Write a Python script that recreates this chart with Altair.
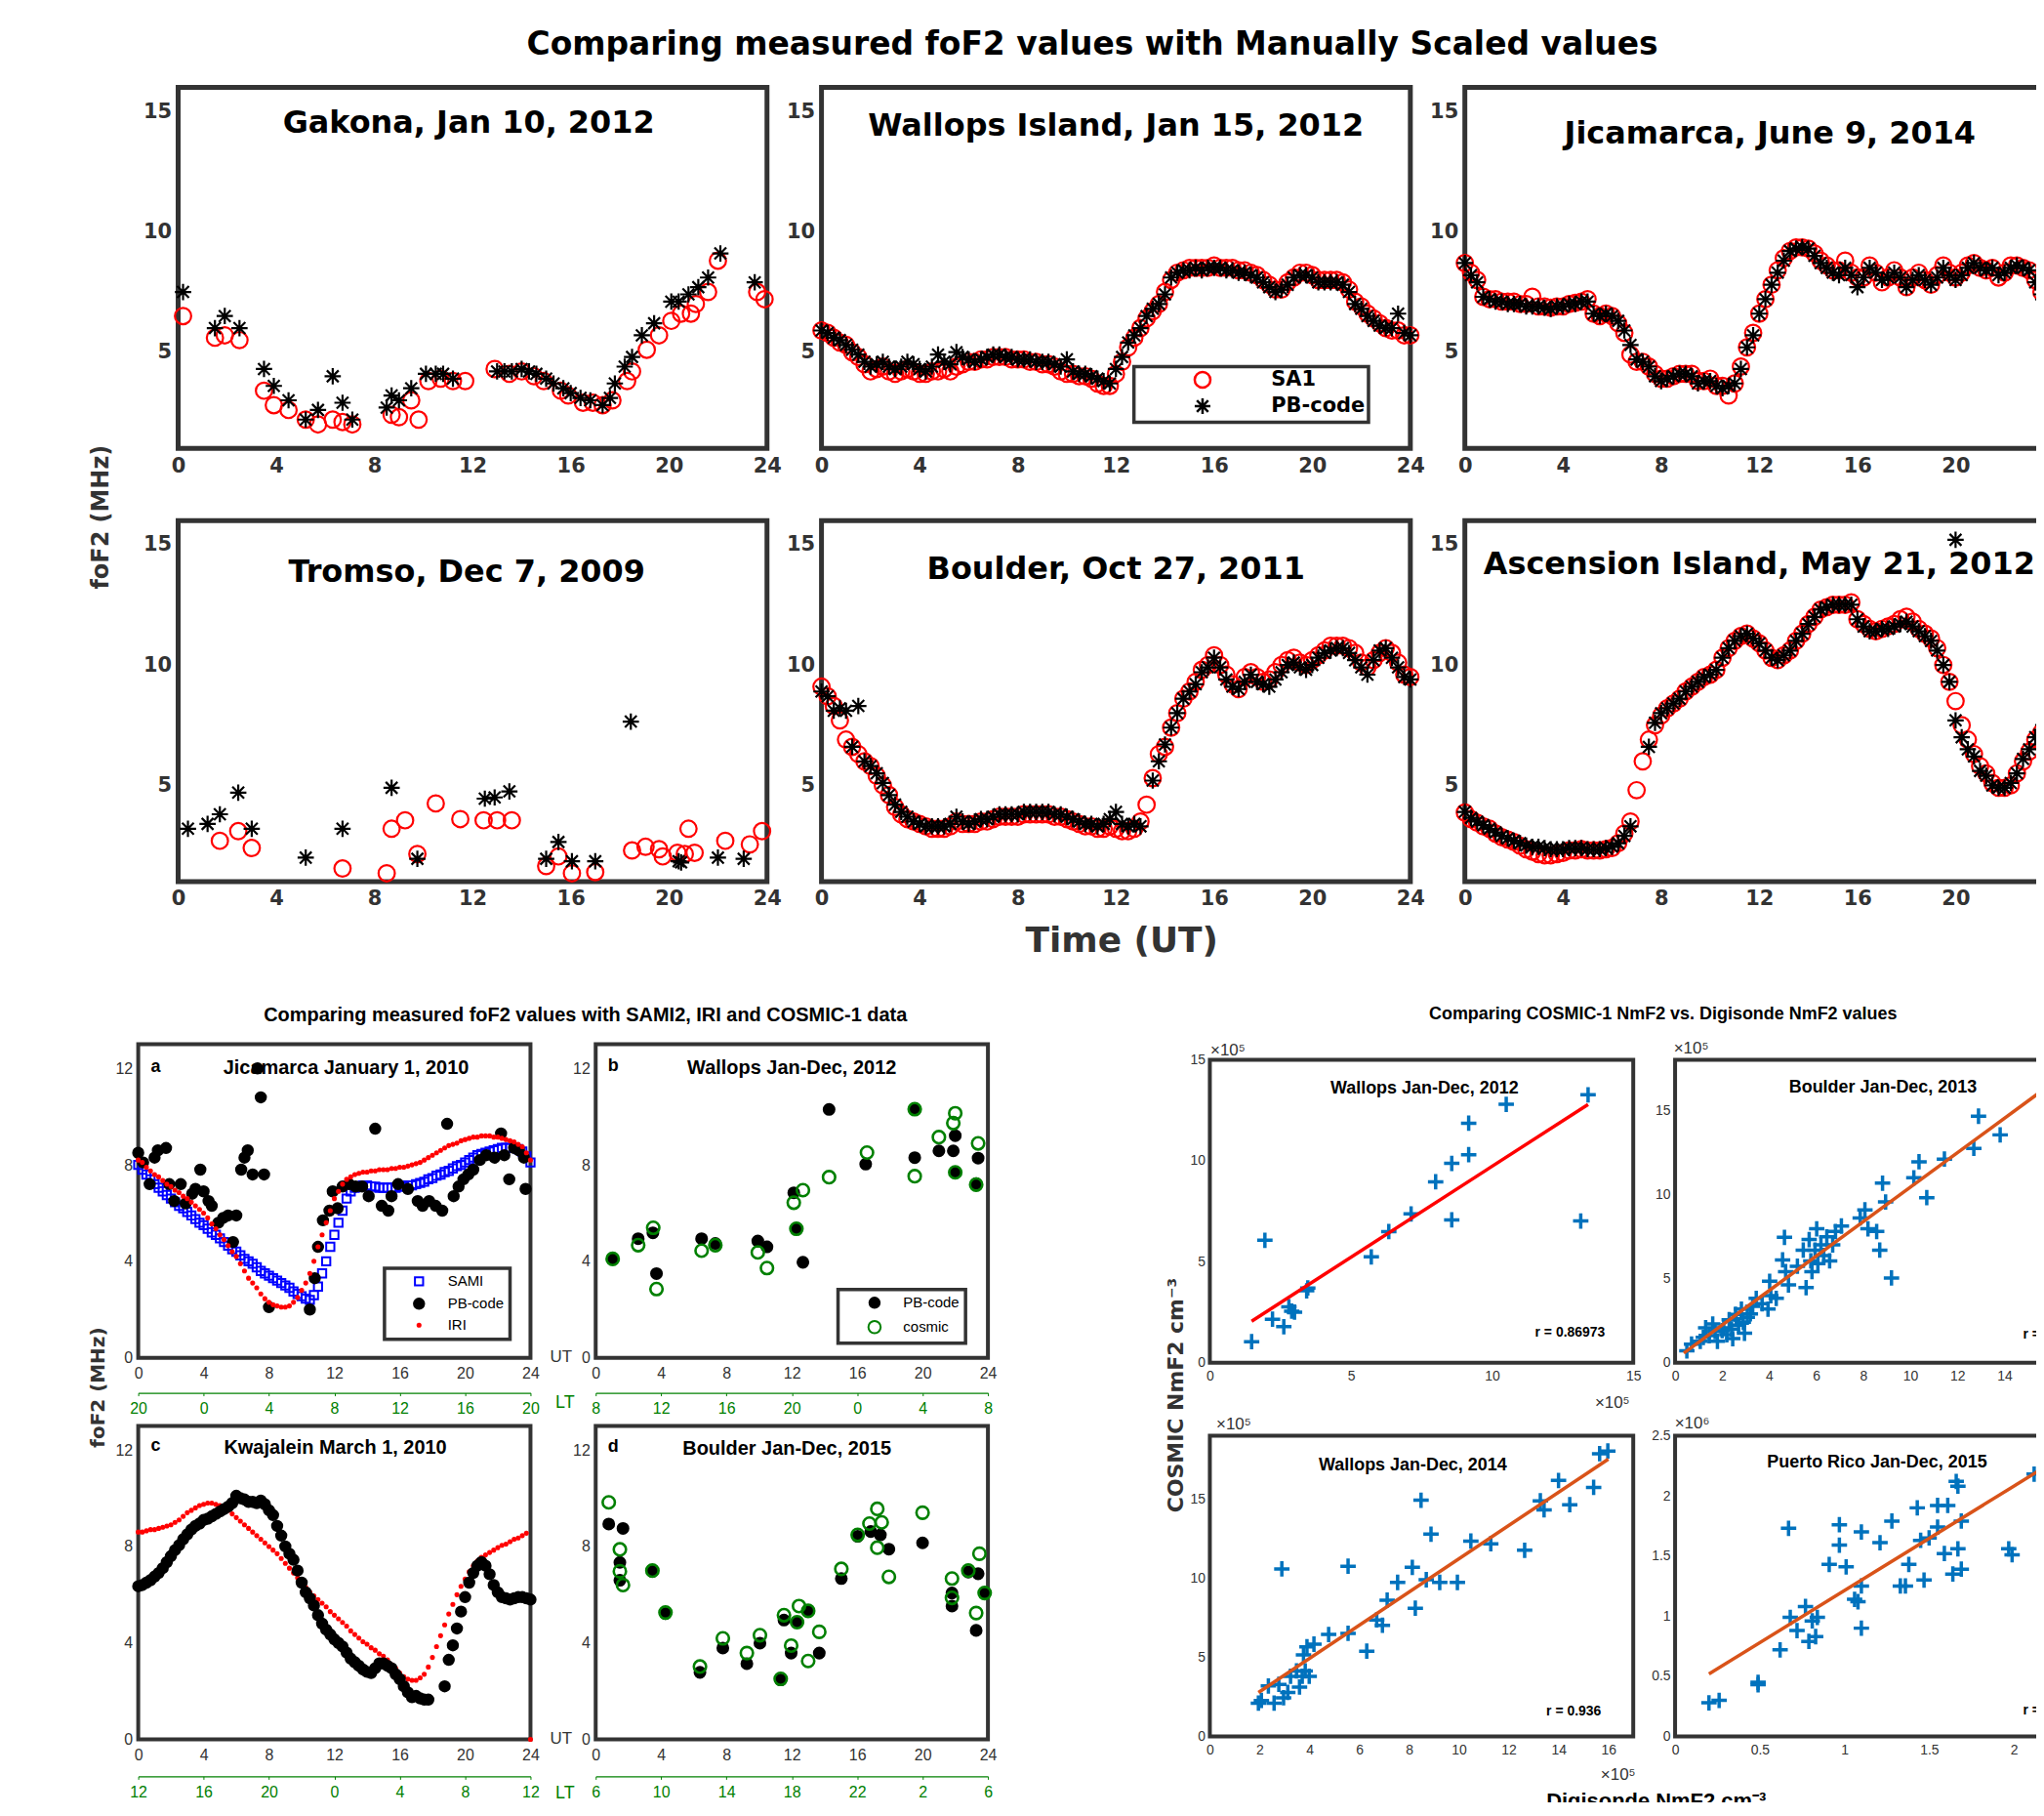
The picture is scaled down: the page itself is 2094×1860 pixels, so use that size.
import altair as alt
import pandas as pd

WF = "DejaVu Sans"
NF = "Liberation Sans"
DARK = "#333333"
ASTER = "M0,-1L0,1M-1,0L1,0M-0.72,-0.72L0.72,0.72M-0.72,0.72L0.72,-0.72"
PLUS = "M-1,0L1,0M0,-1L0,1"
SQUARE = "M-0.8,-0.8H0.8V0.8H-0.8Z"
DOT = "M0.3,0A0.3,0.3 0 1,1 -0.3,0A0.3,0.3 0 1,1 0.3,0Z"
RING = "M1.2,0A1.2,1.2 0 1,1 -1.2,0A1.2,1.2 0 1,1 1.2,0Z"
UT_TICKS = [0, 4, 8, 12, 16, 20, 24]

# ---------------- top block data (foF2, MHz) ----------------
gak_sa_h = [0.2, 1.5, 1.9, 2.5, 3.5, 3.9, 4.5, 5.2, 5.7, 6.3, 6.7, 7.1, 8.7, 9.0, 9.5, 9.8, 10.2, 10.7, 11.2, 11.7,
            12.9, 13.5, 14.0, 14.5, 14.9, 15.6, 15.9, 16.5, 16.9, 17.3, 17.7, 18.3, 18.5, 19.1, 19.6, 20.1, 20.5,
            20.9, 21.1, 21.6, 22.0, 23.6, 23.9]
gak_sa_v = [6.5, 5.6, 5.7, 5.5, 3.4, 2.8, 2.6, 2.2, 2.0, 2.2, 2.1, 2.0, 2.4, 2.3, 3.0, 2.2, 3.8, 3.9, 3.8, 3.8,
            4.3, 4.1, 4.2, 4.0, 3.8, 3.4, 3.2, 2.9, 2.9, 2.8, 3.0, 3.8, 4.2, 5.1, 5.7, 6.3, 6.6,
            6.6, 7.0, 7.5, 8.8, 7.5, 7.2]
gak_pb_h = [0.2, 1.5, 1.9, 2.5, 3.5, 3.9, 4.5, 5.2, 5.7, 6.3, 6.7, 7.1, 8.5, 8.7, 9.0, 9.5, 10.1, 10.5, 10.8, 11.2,
            13.0, 13.3, 13.6, 14.0, 14.3, 14.6, 15.0, 15.3, 15.7, 16.0, 16.4, 16.8, 17.3, 17.6, 17.8, 18.2, 18.5,
            18.9, 19.4, 20.1, 20.4, 20.8, 21.2, 21.6, 22.1, 23.5]
gak_pb_v = [7.5, 6.0, 6.5, 6.0, 4.3, 3.6, 3.0, 2.2, 2.6, 4.0, 2.9, 2.2, 2.7, 3.2, 3.0, 3.5, 4.1, 4.1, 4.1, 3.9,
            4.2, 4.2, 4.2, 4.3, 4.2, 4.1, 3.9, 3.7, 3.5, 3.3, 3.1, 3.0, 2.8, 3.1, 3.7, 4.4, 4.8,
            5.7, 6.2, 7.1, 7.1, 7.4, 7.7, 8.1, 9.1, 7.9]

# quarter-hour series (0, 0.25, ... 24 UT)
wal_sa = [5.9, 5.8, 5.6, 5.4, 5.3, 5.0, 4.8, 4.5, 4.2, 4.3, 4.4, 4.2, 4.1, 4.2, 4.3, 4.2, 4.1, 4.1, 4.2, 4.2,
          4.3, 4.2, 4.4, 4.5, 4.6, 4.6, 4.7, 4.7, 4.8, 4.8, 4.8, 4.7, 4.7, 4.7, 4.6, 4.6, 4.5, 4.5, 4.4, 4.2,
          4.1, 4.1, 4.0, 4.0, 3.9, 3.7, 3.6, 3.6, 4.1, 4.6, 5.2, 5.6, 6.0, 6.4, 6.7, 7.0, 7.5, 8.0, 8.3, 8.4,
          8.5, 8.5, 8.5, 8.5, 8.6, 8.5, 8.5, 8.5, 8.4, 8.4, 8.3, 8.2, 8.0, 7.8, 7.6, 7.6, 7.9, 8.1, 8.3, 8.3,
          8.2, 8.0, 8.0, 8.0, 8.0, 7.9, 7.6, 7.1, 6.9, 6.6, 6.4, 6.2, 6.0, 5.9, 5.9, 5.7, 5.7]
wal_pb = [5.9, 5.8, 5.6, 5.5, 5.3, 5.1, 4.9, 4.6, 4.4, 4.5, 4.6, 4.4, 4.3, 4.4, 4.6, 4.5, 4.3, 4.2, 4.4, 4.9,
          4.6, 4.5, 5.0, 4.8, 4.7, 4.6, 4.7, 4.8, 4.9, 4.9, 4.8, 4.8, 4.7, 4.7, 4.7, 4.6, 4.6, 4.6, 4.5, 4.4,
          4.7, 4.2, 4.1, 4.1, 4.0, 3.9, 3.8, 3.7, 4.3, 4.8, 5.4, 5.7, 6.0, 6.5, 6.8, 7.0, 7.4, 8.1, 8.3, 8.4,
          8.4, 8.5, 8.4, 8.5, 8.5, 8.5, 8.4, 8.4, 8.3, 8.3, 8.2, 8.1, 7.9, 7.7, 7.5, 7.6, 7.8, 8.1, 8.2, 8.2,
          8.1, 7.9, 7.9, 7.9, 7.9, 7.8, 7.5, 7.0, 6.8, 6.5, 6.3, 6.1, 6.0, 6.0, 6.6, 5.8, 5.7]

jic_sa = [8.7, 8.3, 8.0, 7.3, 7.2, 7.2, 7.1, 7.1, 7.1, 7.0, 7.0, 7.3,
          6.9, 6.9, 6.85, 6.9, 6.9, 7.0, 7.05, 7.1, 7.2, 6.6, 6.5, 6.6,
          6.5, 6.2, 5.8, 4.9, 4.6, 4.6, 4.4, 4.1, 3.9, 3.9, 4.0, 4.1,
          4.1, 4.1, 3.8, 3.8, 3.9, 3.6, 3.6, 3.2, 3.7, 4.4, 5.2, 5.8,
          6.6, 7.2, 7.8, 8.4, 8.9, 9.2, 9.35, 9.35, 9.3, 9.1, 8.8, 8.6,
          8.4, 8.4, 8.8, 8.3, 8.1, 8.1, 8.6, 8.3, 7.9, 8.1, 8.4, 8.1,
          7.7, 8.1, 8.3, 8.0, 7.8, 8.2, 8.6, 8.3, 8.1, 8.3, 8.6, 8.7,
          8.5, 8.4, 8.5, 8.1, 8.3, 8.6, 8.6, 8.5, 8.4, 8.0, 7.5, 7.1, 6.8]
jic_pb = [8.7, 8.2, 7.9, 7.3, 7.2, 7.1, 7.1, 7.0, 7.0, 7.0, 6.9, 6.9,
          6.9, 6.85, 6.8, 6.9, 6.9, 7.0, 7.0, 7.1, 7.1, 6.6, 6.5, 6.6,
          6.5, 6.3, 5.9, 5.3, 4.7, 4.6, 4.4, 4.0, 3.8, 3.9, 4.0, 4.1,
          4.1, 4.0, 3.7, 3.8, 3.8, 3.6, 3.5, 3.6, 3.7, 4.3, 5.2, 5.7,
          6.6, 7.2, 7.8, 8.3, 8.8, 9.2, 9.3, 9.35, 9.3, 9.0, 8.7, 8.5,
          8.3, 8.2, 8.5, 8.2, 7.7, 8.1, 8.5, 8.3, 8.0, 8.1, 8.3, 8.1,
          7.7, 8.0, 8.2, 8.0, 7.8, 8.1, 8.5, 8.2, 8.0, 8.2, 8.5, 8.7,
          8.5, 8.4, 8.5, 8.2, 8.3, 8.5, 8.6, 8.5, 8.4, 7.9, 7.4, 7.0, 6.7]

tro_sa_h = [1.7, 2.45, 3.0, 6.7, 8.5, 8.7, 9.25, 9.75, 10.5, 11.5, 12.45, 13.0, 13.6, 15.0, 15.5, 16.05, 17.0,
            18.5, 19.05, 19.6, 19.75, 20.35, 20.65, 20.8, 21.05, 22.3, 23.3, 23.8]
tro_sa_v = [2.7, 3.1, 2.4, 1.55, 1.35, 3.2, 3.55, 2.15, 4.25, 3.6, 3.55, 3.55, 3.55, 1.65, 2.05, 1.35, 1.4,
            2.3, 2.45, 2.35, 2.05, 2.2, 2.15, 3.2, 2.2, 2.7, 2.55, 3.1]
tro_pb_h = [0.4, 1.2, 1.7, 2.45, 3.0, 5.2, 6.7, 8.7, 9.75, 12.5, 12.9, 13.5, 15.0, 15.5, 16.05, 17.0, 18.45,
            20.4, 20.5, 22.0, 23.05]
tro_pb_v = [3.2, 3.4, 3.8, 4.7, 3.2, 2.0, 3.2, 4.9, 1.95, 4.45, 4.5, 4.75, 1.95, 2.65, 1.85, 1.85, 7.65,
            1.85, 1.8, 2.0, 1.95]

bou_sa = [9.1, 8.7, 8.3, 7.7, 6.9, 6.6, 6.3, 6.0, 5.8, 5.4, 5.0, 4.6,
          4.1, 3.8, 3.6, 3.5, 3.4, 3.3, 3.2, 3.2, 3.2, 3.3, 3.5, 3.4,
          3.4, 3.4, 3.5, 3.5, 3.6, 3.7, 3.7, 3.7, 3.7, 3.8, 3.8, 3.8,
          3.8, 3.8, 3.7, 3.7, 3.6, 3.5, 3.4, 3.3, 3.3, 3.2, 3.2, 3.3,
          3.2, 3.1, 3.1, 3.2, 3.5, 4.2, 5.3, 6.3, 6.6, 7.4, 8.0, 8.6,
          8.9, 9.3, 9.8, 10.0, 10.4, 10.0, 9.6, 9.2, 9.0, 9.5, 9.7, 9.5,
          9.3, 9.4, 9.7, 10.0, 10.2, 10.3, 10.1, 10.0, 10.2, 10.4, 10.6, 10.8,
          10.8, 10.8, 10.7, 10.5, 10.1, 9.9, 10.2, 10.5, 10.7, 10.5, 10.1, 9.6, 9.5]
bou_pb = [8.9, 8.7, 8.1, 8.2, 8.1, 6.6, 8.3, 6.0, 5.8, 5.5, 5.1, 4.6,
          4.2, 3.9, 3.7, 3.5, 3.4, 3.3, 3.3, 3.3, 3.3, 3.4, 3.7, 3.5,
          3.4, 3.5, 3.6, 3.6, 3.7, 3.8, 3.8, 3.8, 3.8, 3.9, 3.9, 3.9,
          3.9, 3.9, 3.8, 3.8, 3.7, 3.6, 3.5, 3.4, 3.4, 3.3, 3.4, 3.6,
          3.9, 3.4, 3.3, 3.4, 3.3, None, 5.2, 6.0, 6.7, 7.4, 8.0, 8.6,
          8.9, 9.2, 9.7, 9.9, 10.3, 9.9, 9.4, 9.1, 9.0, 9.3, 9.6, 9.3,
          9.2, 9.1, 9.4, 9.7, 10.0, 10.1, 9.9, 9.8, 10.0, 10.3, 10.5, 10.6,
          10.7, 10.7, 10.5, 10.2, 9.9, 9.6, 10.2, 10.6, 10.7, 10.3, 9.9, 9.5, 9.4]

asc_sa = [3.87, 3.6, 3.45, 3.3, 3.2, 3.0, 2.85, 2.75, 2.65, 2.5, 2.35, 2.25,
          2.15, 2.1, 2.1, 2.15, 2.2, 2.3, 2.3, 2.35, 2.3, 2.3, 2.3, 2.35,
          2.4, 2.6, 3.0, 3.5, 4.8, 6.0, 6.9, 7.5, 7.9, 8.2, 8.4, 8.6,
          8.9, 9.1, 9.3, 9.5, 9.6, 9.8, 10.3, 10.7, 11.0, 11.2, 11.3, 11.1,
          10.9, 10.6, 10.3, 10.2, 10.4, 10.6, 11.0, 11.3, 11.7, 12.0, 12.3, 12.4,
          12.5, 12.5, 12.5, 12.6, 11.9, 11.7, 11.5, 11.4, 11.5, 11.6, 11.7, 11.9,
          12.0, 11.8, 11.5, 11.3, 11.1, 10.7, 10.0, 9.3, 8.5, 7.5, 6.9, 6.3,
          5.8, 5.5, 5.1, 4.9, 4.9, 5.0, 5.5, 6.0, 6.4, 6.9, 7.2, 7.5, 7.8]
asc_pb = [3.9, 3.65, 3.5, 3.35, 3.2, 3.05, 2.9, 2.8, 2.7, 2.6, 2.5, 2.45,
          2.45, 2.4, 2.35, 2.35, 2.35, 2.4, 2.4, 2.4, 2.35, 2.35, 2.35, 2.4,
          2.45, 2.6, 2.9, 3.3, None, None, 6.6, 7.6, 8.0, 8.2, 8.4, 8.6,
          8.9, 9.1, 9.3, 9.5, 9.6, 9.8, 10.3, 10.7, 11.0, 11.2, 11.3, 11.1,
          10.9, 10.6, 10.3, 10.2, 10.4, 10.6, 11.0, 11.3, 11.7, 12.0, 12.3, 12.4,
          12.5, 12.5, 12.5, 12.5, 11.9, 11.6, 11.4, 11.4, 11.5, 11.5, 11.6, 11.7,
          11.8, 11.6, 11.4, 11.2, 11.0, 10.6, 10.0, 9.3, 7.7, 7.0, 6.5, 6.2,
          5.6, 5.4, 5.0, 4.9, 4.9, 5.1, 5.5, 6.1, 6.5, 7.0, 7.3, 7.6, 7.9]
asc_pb_extra_h = [20.0]
asc_pb_extra_v = [15.2]

# ---------------- bottom-left data ----------------
a_sami = [8.0, 7.8, 7.6, 7.4, 7.2, 7.05, 6.9, 6.75, 6.6, 6.45, 6.3, 6.2,
          6.05, 5.9, 5.75, 5.6, 5.5, 5.35, 5.2, 5.1, 4.95, 4.8, 4.65, 4.5,
          4.4, 4.25, 4.1, 4.0, 3.9, 3.75, 3.6, 3.5, 3.4, 3.3, 3.2, 3.1,
          3.0, 2.9, 2.75, 2.65, 2.55, 2.45, 2.4, 2.6, 2.95, 3.5, 4.0, 4.6,
          5.1, 5.6, 6.1, 6.6, 6.9, 7.05, 7.1, 7.15, 7.15, 7.1, 7.1, 7.05,
          7.05, 7.05, 7.05, 7.05, 7.1, 7.1, 7.15, 7.15, 7.2, 7.25, 7.3, 7.4,
          7.45, 7.55, 7.6, 7.7, 7.75, 7.85, 7.95, 8.0, 8.1, 8.2, 8.3, 8.4,
          8.45, 8.5, 8.55, 8.6, 8.65, 8.7, 8.7, 8.7, 8.7, 8.65, 8.55, 8.35, 8.1]
a_iri = [8.2, 8.1, 7.9, 7.75, 7.6, 7.5, 7.35, 7.2, 7.1, 6.95, 6.85, 6.7,
         6.6, 6.45, 6.3, 6.15, 6.0, 5.8, 5.55, 5.35, 5.1, 4.9, 4.65, 4.4,
         4.2, 3.9, 3.6, 3.3, 3.1, 2.9, 2.65, 2.45, 2.3, 2.2, 2.15, 2.1,
         2.1, 2.15, 2.3, 2.5, 2.8, 3.1, 3.5, 4.0, 4.6, 5.1, 5.6, 6.1,
         6.6, 6.9, 7.2, 7.4, 7.5, 7.6, 7.65, 7.7, 7.7, 7.75, 7.75, 7.8,
         7.8, 7.8, 7.85, 7.85, 7.9, 7.9, 7.95, 8.0, 8.05, 8.1, 8.2, 8.3,
         8.4, 8.5, 8.6, 8.7, 8.8, 8.85, 8.9, 9.0, 9.05, 9.1, 9.15, 9.15,
         9.2, 9.2, 9.2, 9.15, 9.15, 9.1, 9.05, 9.0, 8.95, 8.85, 8.75, 8.5, 8.2]
a_pb_h = [0.0, 0.3, 0.7, 1.0, 1.2, 1.7, 1.9, 2.2, 2.6, 2.9, 3.3, 3.5, 3.8, 4.0, 4.3, 4.5, 4.9, 5.2, 5.5, 5.8,
          6.0, 6.3, 6.5, 6.7, 7.0, 7.3, 7.5, 7.7, 8.0, 10.5, 10.8, 11.0, 11.3, 11.7, 11.9, 12.2, 12.5, 12.9,
          13.3, 13.7, 14.1, 14.5, 14.9, 15.3, 15.5, 15.9, 16.5, 17.1, 17.4, 17.8, 18.2, 18.6, 18.9, 19.3,
          19.6, 19.9, 20.2, 20.5, 20.9, 21.3, 21.8, 22.2, 22.4, 22.7, 23.0, 23.3, 23.6, 23.7]
a_pb_v = [8.5, 8.1, 7.2, 8.3, 8.6, 8.7, 7.2, 6.5, 7.2, 6.4, 6.8, 7.0, 7.8, 6.9, 6.5, 6.3, 5.6, 5.8, 5.9, 4.8,
          5.9, 7.8, 8.3, 8.6, 7.6, 12.0, 10.8, 7.6, 2.1, 2.0, 3.3, 4.6, 5.7, 6.1, 6.9, 6.2, 7.1, 7.2,
          7.1, 7.1, 6.7, 9.5, 6.3, 6.1, 6.7, 7.2, 7.0, 6.5, 6.3, 6.5, 6.3, 6.1, 9.7, 6.7,
          7.1, 7.4, 7.6, 7.8, 8.2, 8.4, 8.3, 9.3, 8.4, 7.4, 8.7, 8.6, 8.3, 7.0]

b_pb_h = [1.04, 2.6, 3.5, 3.72, 6.48, 7.32, 9.92, 10.48, 12.12, 12.28, 12.68, 14.28, 16.52, 19.52, 19.52,
          21.0, 21.88, 22.0, 22.0, 23.28, 23.4]
b_pb_v = [4.1, 4.94, 5.18, 3.49, 4.94, 4.74, 4.84, 4.6, 6.84, 5.35, 3.96, 10.3, 8.03, 10.31, 8.3,
          8.58, 8.58, 9.21, 7.69, 7.22, 8.28]
b_cos_h = [1.04, 2.6, 3.52, 3.72, 6.48, 7.32, 9.92, 10.48, 12.12, 12.28, 12.68, 14.28, 16.6, 19.52, 19.52,
           21.0, 21.88, 22.0, 22.0, 23.28, 23.4]
b_cos_v = [4.1, 4.67, 5.39, 2.85, 4.44, 4.67, 4.37, 3.72, 6.43, 5.35, 6.95, 7.49, 8.51, 10.31, 7.53,
           9.15, 9.73, 10.14, 7.69, 7.18, 8.89]

c_iri = [8.6, 8.6, 8.65, 8.7, 8.7, 8.75, 8.8, 8.85, 8.9, 9.0, 9.1, 9.25,
         9.4, 9.5, 9.6, 9.7, 9.75, 9.8, 9.8, 9.75, 9.7, 9.6, 9.5, 9.35,
         9.2, 9.05, 8.9, 8.75, 8.6, 8.45, 8.3, 8.15, 8.0, 7.85, 7.7, 7.5,
         7.3, 7.1, 6.9, 6.7, 6.5, 6.3, 6.1, 5.95, 5.8, 5.65, 5.5, 5.3,
         5.15, 5.0, 4.85, 4.7, 4.5, 4.35, 4.2, 4.05, 3.95, 3.8, 3.7, 3.55,
         3.45, 3.3, 3.1, 2.95, 2.75, 2.6, 2.5, 2.45, 2.45, 2.55, 2.7, 3.0,
         3.4, 3.85, 4.3, 4.75, 5.2, 5.6, 6.0, 6.35, 6.65, 6.95, 7.2, 7.4,
         7.55, 7.65, 7.75, 7.85, 7.95, 8.05, 8.1, 8.2, 8.3, 8.35, 8.45, 8.55, 0.0]
c_pb = [6.35, 6.4, 6.5, 6.6, 6.75, 6.9, 7.1, 7.35, 7.6, 7.85, 8.05, 8.3,
        8.5, 8.7, 8.85, 8.95, 9.1, 9.15, 9.25, 9.35, 9.45, 9.55, 9.65, 9.8,
        10.1, 10.0, 9.95, 9.85, 9.85, 9.8, 9.9, 9.75, 9.5, 9.3, 8.85, 8.45,
        8.0, 7.7, 7.45, 7.0, 6.5, 6.1, 5.85, 5.55, 5.15, 4.8, 4.55, 4.35,
        4.15, 4.0, 3.85, 3.6, 3.35, 3.2, 3.05, 2.9, 2.8, 2.75, 2.95, 3.15,
        3.15, 3.05, 2.95, 2.7, 2.5, 2.2, 1.95, 1.75, 1.8, 1.7, 1.65, 1.65,
        None, None, None, 2.2, 3.3, 3.9, 4.6, 5.3, 5.9, 6.5, 6.9, 7.2,
        7.35, 7.2, 6.85, 6.4, 6.1, 5.9, 5.85, 5.8, 5.85, 5.9, 5.9, 5.85, 5.8]

d_pb_h = [0.8, 1.67, 1.48, 1.48, 3.47, 4.27, 6.38, 7.78, 9.25, 10.05, 11.32, 11.52, 11.96, 12.32, 13.0, 13.68,
          15.03, 16.03, 16.83, 17.42, 17.94, 20.0, 21.8, 21.8, 22.8, 23.28, 23.4, 23.8]
d_pb_v = [8.93, 8.75, 7.34, 6.6, 6.97, 5.22, 2.78, 3.79, 3.14, 3.99, 2.47, 4.95, 3.58, 4.86, 5.33, 3.58,
          6.67, 8.42, 8.62, 8.48, 7.89, 8.15, 5.53, 6.07, 6.94, 4.52, 6.87, 6.07]
d_cos_h = [0.8, 1.48, 1.48, 1.67, 3.47, 4.27, 6.38, 7.78, 9.25, 10.05, 11.32, 11.52, 11.96, 12.32, 12.44, 13.0,
           13.68, 13.0, 15.03, 16.03, 16.75, 17.23, 17.23, 17.5, 17.94, 20.0, 21.8, 21.8, 22.8, 23.28, 23.48, 23.8]
d_cos_v = [9.83, 7.88, 6.97, 6.4, 7.0, 5.26, 3.02, 4.19, 3.58, 4.32, 2.51, 5.15, 3.89, 4.86, 5.53, 5.33,
           4.46, 3.25, 7.07, 8.48, 8.95, 9.56, 7.95, 9.0, 6.74, 9.4, 6.67, 5.87, 7.0, 5.24, 7.7, 6.07]

# ---------------- bottom-right data (NmF2) ----------------
w12_x = [1.48, 1.95, 2.22, 2.62, 2.8, 2.9, 3.0, 3.43, 3.47, 5.72, 6.34, 7.13, 8.0, 8.57, 8.57, 9.17, 9.17,
         10.5, 13.14, 13.4]
w12_y = [1.04, 6.06, 2.15, 1.78, 2.77, 2.55, 2.5, 3.56, 3.7, 5.24, 6.49, 7.37, 8.96, 9.87, 7.07, 10.3, 11.86,
         12.8, 7.02, 13.27]
w12_fit_x = [1.48, 13.4]
w12_fit_y = [2.05, 12.79]

b13_x = [0.5, 0.7, 1.07, 1.3, 1.45, 1.7, 1.8, 2.07, 2.2, 2.3, 2.45, 2.57, 2.7, 2.82, 2.95, 3.07, 3.3, 3.45,
         3.7, 3.95, 4.02, 4.07, 4.3, 4.7, 4.57, 4.65, 4.82, 5.2, 5.45, 5.57, 5.7, 5.77, 5.82, 5.95, 6.02, 6.07,
         6.2, 6.32, 6.45, 6.57, 6.7, 6.82, 7.07, 7.87, 8.07, 8.2, 8.57, 8.7, 8.82, 8.95, 9.2, 10.15, 10.37,
         10.7, 11.45, 12.7, 12.9, 13.82, 1.2, 1.6, 2.0, 2.4, 2.6, 2.9, 3.2]
b13_y = [0.7, 1.1, 1.27, 2.07, 1.6, 1.85, 1.27, 2.07, 1.66, 2.55, 1.43, 2.87, 2.23, 3.18, 1.75, 2.7, 3.34, 3.82,
         3.5, 3.18, 4.84, 3.98, 3.82, 5.41, 6.11, 7.45, 4.62, 5.73, 6.69, 4.46, 7.32, 6.05, 5.41, 6.69, 7.96, 5.89,
         7.0, 6.37, 7.48, 6.05, 7.0, 7.8, 8.12, 8.6, 9.08, 7.96, 7.8, 6.69, 10.67, 9.55, 5.03, 10.99, 11.94,
         9.81, 12.1, 12.74, 14.65, 13.54, 1.5, 2.3, 1.9, 2.0, 2.6, 2.4, 2.9]
b13_fit_x = [0.37, 17.0]
b13_fit_y = [0.57, 17.6]

w14_x = [1.95, 2.07, 2.35, 2.58, 2.77, 2.89, 2.96, 3.13, 3.24, 3.48, 3.6, 3.71, 3.76, 3.83, 3.9, 3.99, 4.18,
         4.77, 5.55, 5.55, 6.3, 6.7, 6.93, 7.12, 7.54, 8.13, 8.25, 8.48, 8.69, 8.88, 9.23, 9.94, 10.48, 11.28,
         12.64, 13.27, 13.42, 14.0, 14.45, 15.41, 15.65, 15.98]
w14_y = [2.1, 2.27, 3.19, 2.1, 3.29, 10.58, 2.44, 2.78, 3.8, 4.14, 3.12, 3.8, 5.15, 4.14, 5.66, 3.8, 5.83,
         6.44, 10.75, 6.51, 5.39, 7.36, 7.02, 8.61, 9.73, 10.68, 8.1, 14.92, 9.9, 12.78, 9.73, 9.73, 12.34, 12.17,
         11.76, 14.88, 14.31, 16.17, 14.64, 15.73, 17.86, 18.03]
w14_fit_x = [1.95, 16.0]
w14_fit_y = [2.78, 17.52]

pr15_x = [0.2, 0.26, 0.49, 0.49, 0.62, 0.67, 0.68, 0.72, 0.77, 0.79, 0.81, 0.83, 0.84, 0.91, 0.97, 0.97, 1.01,
          1.06, 1.08, 1.1, 1.1, 1.1, 1.21, 1.28, 1.33, 1.36, 1.38, 1.43, 1.45, 1.47, 1.5, 1.55, 1.55, 1.59, 1.61,
          1.64, 1.66, 1.67, 1.67, 1.69, 1.69, 1.97, 1.99, 2.12]
pr15_y = [0.28, 0.3, 0.45, 0.43, 0.72, 1.73, 0.99, 0.88, 1.08, 0.79, 0.96, 0.83, 0.99, 1.43, 1.76, 1.59, 1.41,
          1.14, 1.12, 1.25, 1.7, 0.9, 1.61, 1.79, 1.25, 1.25, 1.43, 1.9, 1.63, 1.3, 1.65, 1.92, 1.74, 1.52, 1.92,
          1.35, 2.12, 2.08, 1.56, 1.39, 1.79, 1.56, 1.51, 2.18]
pr15_fit_x = [0.2, 2.45]
pr15_fit_y = [0.52, 2.47]


# ---------------- helpers ----------------
def qh(vals):
    return [i * 0.25 for i in range(len(vals))]


def rows(h, v, s):
    return [{"h": a, "v": b, "s": s} for a, b in zip(h, v) if b is not None]


def label_df(t):
    return pd.DataFrame({"t": [t]})


def spacer():
    return alt.Chart(pd.DataFrame({"z": [0]})).mark_point(opacity=0).properties(
        width=1, height=1, view=alt.ViewBackground(stroke="transparent", strokeWidth=0))


IND = dict(shape="independent", stroke="independent", fill="independent", size="independent")

TW, TH = 605, 371


def top_panel(sa_h, sa_v, pb_h, pb_v, title, tdx, tdy, legend=False, xtitle=False, ytitle=False):
    df = pd.DataFrame(rows(sa_h, sa_v, "SA1") + rows(pb_h, pb_v, "PB-code"))
    common = dict(labelFont=WF, labelFontWeight="bold", labelFontSize=21, labelColor=DARK,
                  labelPadding=7, ticks=False, domain=False, labelFlush=False, labelOverlap=False)
    if xtitle:
        xax = alt.Axis(values=UT_TICKS, title="Time (UT)", titleFont=WF, titleFontWeight="bold",
                       titleFontSize=36, titleColor=DARK, titleX=308, titleY=61, titleBaseline="middle",
                       titleAlign="center", **common)
    else:
        xax = alt.Axis(values=UT_TICKS, title=None, **common)
    if ytitle:
        yax = alt.Axis(values=[5, 10, 15], title="foF2 (MHz)", titleFont=WF, titleFontWeight="bold",
                       titleFontSize=24, titleColor=DARK, titleX=-79, titleY=-4, titleAngle=270,
                       titleBaseline="middle", titleAlign="center", **common)
    else:
        yax = alt.Axis(values=[5, 10, 15], title=None, **common)
    if legend:
        leg = alt.Legend(title=None, orient="none", legendX=321, legendY=287, fillColor="white",
                         strokeColor=DARK, padding=3, labelFont=WF, labelFontWeight="bold", labelFontSize=21,
                         labelColor="black", symbolSize=260, symbolStrokeWidth=2.5, symbolOffset=57,
                         labelOffset=60, rowPadding=0, labelExpr="datum.label + '    '")
    else:
        leg = None
    pts = alt.Chart(df).mark_point(filled=False, size=280, strokeWidth=2.2, opacity=1).encode(
        x=alt.X("h:Q", scale=alt.Scale(domain=[0, 24], nice=False, zero=False), axis=xax),
        y=alt.Y("v:Q", scale=alt.Scale(domain=[1, 16], nice=False, zero=False), axis=yax),
        shape=alt.Shape("s:N", scale=alt.Scale(domain=["SA1", "PB-code"], range=["circle", ASTER]), legend=leg),
        stroke=alt.Stroke("s:N", scale=alt.Scale(domain=["SA1", "PB-code"], range=["#ff0000", "#000000"]),
                          legend=leg),
    )
    txt = alt.Chart(label_df(title)).mark_text(font=WF, fontWeight="bold", fontSize=32, color="black",
                                               align="center", baseline="middle").encode(
        x=alt.value(TW / 2 + tdx), y=alt.value(tdy), text="t:N")
    return alt.layer(pts, txt).properties(width=TW, height=TH,
                                          view=alt.ViewBackground(stroke=DARK, strokeWidth=5))


p1 = top_panel(gak_sa_h, gak_sa_v, gak_pb_h, gak_pb_v, "Gakona, Jan 10, 2012", -4, 37)
p2 = top_panel(qh(wal_sa), wal_sa, qh(wal_pb), wal_pb, "Wallops Island, Jan 15, 2012", 0, 40, legend=True)
p3 = top_panel(qh(jic_sa), jic_sa, qh(jic_pb), jic_pb, "Jicamarca, June 9, 2014", 11, 48)
p4 = top_panel(tro_sa_h, tro_sa_v, tro_pb_h, tro_pb_v, "Tromso, Dec 7, 2009", -6, 53, ytitle=True)
p5 = top_panel(qh(bou_sa), bou_sa, qh(bou_pb), bou_pb, "Boulder, Oct 27, 2011", 0, 50, xtitle=True)
p6 = top_panel(qh(asc_sa), asc_sa, qh(asc_pb) + asc_pb_extra_h, asc_pb + asc_pb_extra_v,
               "Ascension Island, May 21, 2012", 0, 45)

top = alt.concat(p1, p2, p3, p4, p5, p6, columns=3, spacing=alt.RowColnumber(row=74, column=56),
                 bounds="flush",
                 title=alt.TitleParams("Comparing measured foF2 values with Manually Scaled values", font=WF,
                                       fontSize=33, fontWeight="bold", color="black", anchor="middle",
                                       baseline="bottom", offset=-9, dx=14)).resolve_scale(**IND)

# ---------------- bottom-left panels ----------------
BW, BH = 403, 322


def bl_panel(df, dom, shapes, fills, strokes, letter, title, tdx, tdy, shift, lt_off,
             legend=None, ut_title=False, lt_title_y=None, ytitle=False, sw=2.0):
    lab = dict(labelFont=NF, labelFontSize=16, labelColor=DARK, labelFlush=False, labelOverlap=False,
               ticks=False, domain=False)
    if ut_title:
        xax = alt.Axis(values=UT_TICKS, labelPadding=8, title="UT", titleFont=NF, titleFontSize=17,
                       titleFontWeight="normal", titleColor=DARK, titleX=434, titleY=-1,
                       titleBaseline="middle", titleAlign="center", **lab)
    else:
        xax = alt.Axis(values=UT_TICKS, labelPadding=8, title=None, **lab)
    if ytitle:
        yax = alt.Axis(values=[0, 4, 8, 12], labelPadding=6, title="foF2 (MHz)", titleFont=WF,
                       titleFontSize=20, titleFontWeight="bold", titleColor=DARK, titleX=-41, titleY=-40,
                       titleAngle=270, titleBaseline="middle", titleAlign="center", **lab)
    else:
        yax = alt.Axis(values=[0, 4, 8, 12], labelPadding=6, title=None, **lab)
    pts = alt.Chart(df).mark_point(filled=True, strokeWidth=sw, opacity=1, size=110).encode(
        x=alt.X("h:Q", scale=alt.Scale(domain=[0, 24], nice=False, zero=False), axis=xax),
        y=alt.Y("v:Q", scale=alt.Scale(domain=[0, 13], nice=False), axis=yax),
        shape=alt.Shape("s:N", scale=alt.Scale(domain=dom, range=shapes), legend=legend),
        fill=alt.Fill("s:N", scale=alt.Scale(domain=dom, range=fills), legend=legend),
        stroke=alt.Stroke("s:N", scale=alt.Scale(domain=dom, range=strokes), legend=legend),
    )
    ltkw = dict(orient="bottom", offset=lt_off, values=UT_TICKS, labelExpr=f"(datum.value + {shift}) % 24",
                labelFont=NF, labelFontSize=16, labelColor="green", labelFlush=False, labelOverlap=False,
                domain=True, domainColor="green", domainWidth=1.2, ticks=True, tickColor="green",
                tickSize=3, labelPadding=5)
    if lt_title_y is not None:
        ltax = alt.Axis(title="LT", titleFont=NF, titleFontSize=18, titleFontWeight="normal", titleColor="green",
                        titleX=438, titleY=lt_title_y, titleBaseline="middle", titleAlign="center", **ltkw)
    else:
        ltax = alt.Axis(title=None, **ltkw)
    lt = alt.Chart(pd.DataFrame({"h": [0, 24]})).mark_point(opacity=0).encode(
        x=alt.X("h:Q", scale=alt.Scale(domain=[0, 24], nice=False, zero=False), axis=ltax))
    txt = alt.Chart(label_df(title)).mark_text(font=NF, fontWeight="bold", fontSize=20, color="black",
                                               align="center", baseline="middle").encode(
        x=alt.value(BW / 2 + tdx), y=alt.value(tdy), text="t:N")
    let = alt.Chart(label_df(letter)).mark_text(font=NF, fontWeight="bold", fontSize=18, color="black",
                                                align="center", baseline="middle").encode(
        x=alt.value(18), y=alt.value(tdy - 2), text="t:N")
    return alt.layer(pts, lt, txt, let).resolve_scale(x="independent").properties(
        width=BW, height=BH, view=alt.ViewBackground(stroke=DARK, strokeWidth=4))


def legend_box(x, y, so, lo):
    return alt.Legend(title=None, orient="none", legendX=x, legendY=y, fillColor="white", strokeColor=DARK,
                      padding=6, labelFont=NF, labelFontSize=15, labelColor="black", symbolOffset=so,
                      labelOffset=lo, rowPadding=5, symbolStrokeWidth=2, symbolSize=110)


dom_a = ["SAMI", "PB-code", "IRI"]
df_a = pd.DataFrame(rows(qh(a_sami), a_sami, "SAMI") + rows(a_pb_h, a_pb_v, "PB-code") +
                    rows(qh(a_iri), a_iri, "IRI"))
pa = bl_panel(df_a, dom_a, [SQUARE, "circle", DOT], ["transparent", "black", "red"],
              ["blue", "black", "red"], "a", "Jicamarca January 1, 2010", 12, 25, 20, 36,
              legend=legend_box(253, 230, 22, 22), ut_title=True, lt_title_y=10)

dom_b = ["PB-code", "cosmic"]
df_b = pd.DataFrame(rows(b_pb_h, b_pb_v, "PB-code") + rows(b_cos_h, b_cos_v, "cosmic"))
pb_ = bl_panel(df_b, dom_b, ["circle", RING], ["black", "transparent"], ["black", "green"],
               "b", "Wallops Jan-Dec, 2012", 0, 24, 8, 36, legend=legend_box(249, 252, 24, 22), sw=2.6)

dom_c = ["PB-code", "IRI"]
df_c = pd.DataFrame(rows(qh(c_iri), c_iri, "IRI") + rows(qh(c_pb), c_pb, "PB-code"))
pc = bl_panel(df_c, dom_c, ["circle", DOT], ["black", "red"], ["black", "red"],
              "c", "Kwajalein March 1, 2010", 1, 23, 12, 38, ut_title=True, lt_title_y=17, ytitle=True)

df_d = pd.DataFrame(rows(d_pb_h, d_pb_v, "PB-code") + rows(d_cos_h, d_cos_v, "cosmic"))
pd_ = bl_panel(df_d, dom_b, ["circle", RING], ["black", "transparent"], ["black", "green"],
               "d", "Boulder Jan-Dec, 2015", -5, 24, 6, 38, sw=2.6)

bl = alt.concat(pa, pb_, pc, pd_, columns=2, spacing=alt.RowColnumber(row=70, column=67), bounds="flush",
                title=alt.TitleParams("Comparing measured foF2 values with SAMI2, IRI and COSMIC-1 data",
                                      font=NF, fontSize=20, fontWeight="bold", color="black", anchor="middle",
                                      baseline="bottom", offset=-2, dx=44)).resolve_scale(**IND)

# ---------------- bottom-right panels ----------------
RW = 435


def br_panel(xs, ys, fx, fy, lcolor, title, tdx, tdy, rtext, rx, ry, xdom, ydom, xvals, yvals, h,
             exp_lab, ex_x, ex_y, ey_x, ey_y, fmt=None):
    lab = dict(labelFont=NF, labelFontSize=14, labelColor=DARK, labelFlush=False, labelOverlap=False,
               ticks=False, domain=False)
    if fmt:
        lab["format"] = fmt
    xax = alt.Axis(values=xvals, labelPadding=7, title=exp_lab, titleFont=NF, titleFontSize=17,
                   titleFontWeight="normal", titleColor=DARK, titleX=ex_x, titleY=ex_y, titleAlign="center",
                   titleBaseline="middle", **lab)
    yax = alt.Axis(values=yvals, labelPadding=5, title=exp_lab, titleFont=NF, titleFontSize=17,
                   titleFontWeight="normal", titleColor=DARK, titleX=ey_x, titleY=ey_y, titleAngle=0,
                   titleAlign="center", titleBaseline="middle", **lab)
    xs_ = alt.Scale(domain=xdom, nice=False, zero=False)
    ys_ = alt.Scale(domain=ydom, nice=False, zero=False)
    pts = alt.Chart(pd.DataFrame({"x": xs, "y": ys})).mark_point(
        shape=PLUS, size=250, strokeWidth=3.5, color="#0072BD", opacity=1, filled=False).encode(
        x=alt.X("x:Q", scale=xs_, axis=xax), y=alt.Y("y:Q", scale=ys_, axis=yax))
    line = alt.Chart(pd.DataFrame({"x": fx, "y": fy})).mark_line(color=lcolor, strokeWidth=3.5).encode(
        x=alt.X("x:Q", scale=xs_), y=alt.Y("y:Q", scale=ys_))
    txt = alt.Chart(label_df(title)).mark_text(font=NF, fontWeight="bold", fontSize=18, color="black",
                                               align="center", baseline="middle").encode(
        x=alt.value(RW / 2 + tdx), y=alt.value(tdy), text="t:N")
    rt = alt.Chart(label_df(rtext)).mark_text(font=NF, fontWeight="bold", fontSize=14, color="black",
                                              align="right", baseline="middle").encode(
        x=alt.value(rx), y=alt.value(ry), text="t:N")
    return alt.layer(pts, line, txt, rt).properties(width=RW, height=h,
                                                     view=alt.ViewBackground(stroke=DARK, strokeWidth=4))


E5 = "×10⁵"
E6 = "×10⁶"
r_tl = br_panel(w12_x, w12_y, w12_fit_x, w12_fit_y, "#ff0000", "Wallops Jan-Dec, 2012", 3, 30,
                "r =  0.86973", 406, 280, [0, 15], [0, 15], [0, 5, 10, 15], [0, 5, 10, 15], 311,
                E5, 413, 41, 18, -10)
r_tr = br_panel(b13_x, b13_y, b13_fit_x, b13_fit_y, "#D95319", "Boulder Jan-Dec, 2013", -4, 29,
                "r =  0.95", 406, 282, [0, 18], [0, 18], list(range(0, 18, 2)), [0, 5, 10, 15], 311,
                E5, 413, 41, 16, -12)
r_bl = br_panel(w14_x, w14_y, w14_fit_x, w14_fit_y, "#D95319", "Wallops Jan-Dec, 2014", -9, 31,
                "r =  0.936", 402, 283, [0, 17], [0, 19], list(range(0, 17, 2)), [0, 5, 10, 15], 309,
                E5, 419, 39, 24, -12)
r_br = br_panel(pr15_x, pr15_y, pr15_fit_x, pr15_fit_y, "#D95319", "Puerto Rico Jan-Dec, 2015", -10, 28,
                "r =  0.78", 406, 282, [0, 2.5], [0, 2.5], [0, 0.5, 1, 1.5, 2, 2.5],
                [0, 0.5, 1, 1.5, 2, 2.5], 309, E6, 413, 41, 17, -13, fmt="~g")

br_grid = alt.concat(r_tl, r_tr, r_bl, r_br, columns=2, spacing=alt.RowColnumber(row=75, column=43),
                     bounds="flush",
                     title=alt.TitleParams("COSMIC NmF2 cm⁻³", orient="left", font=WF, fontSize=22,
                                           fontWeight="bold", color=DARK, anchor="middle", offset=0, dx=17))
br_w1 = alt.vconcat(br_grid, bounds="flush",
                    title=alt.TitleParams("Digisonde NmF2 cm⁻³", orient="bottom", font=NF,
                                          fontSize=22, fontWeight="bold", color="black",
                                          anchor="middle", offset=6, dx=19))
br_w2 = alt.vconcat(spacer(), br_w1, spacing=15, bounds="flush",
                    title=alt.TitleParams("Comparing COSMIC-1 NmF2 vs. Digisonde NmF2 values", font=NF,
                                          fontSize=18, fontWeight="bold", color="black", anchor="middle",
                                          baseline="bottom", offset=-3, dx=26))

top_row = alt.hconcat(spacer(), top, spacing=40, bounds="flush").resolve_scale(**IND)
bottom = alt.hconcat(bl, br_w2, spacing=1101, bounds="flush").resolve_scale(**IND)

chart = alt.vconcat(top_row, bottom, spacing=983, bounds="flush").resolve_scale(**IND).properties(
    autosize=alt.AutoSizeParams(type="none"),
    padding={"left": 134, "top": 79, "right": 1950, "bottom": 1759},
    background="white",
).configure_view(stroke=DARK, strokeWidth=4).configure_axis(grid=False).configure_legend(strokeWidth=3.5)

chart.save("out.html", embed_options={"renderer": "svg", "actions": False})
